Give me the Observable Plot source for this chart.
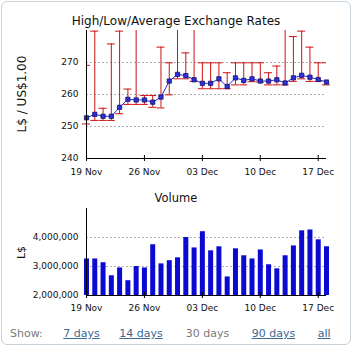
<!DOCTYPE html>
<html><head><meta charset="utf-8">
<script src="https://cdn.jsdelivr.net/npm/d3@7"></script>
<script src="https://cdn.jsdelivr.net/npm/@observablehq/plot@0.6"></script>
<style>
html,body{margin:0;padding:0;background:#fff;}
#wrap{position:relative;width:352px;height:349px;font-family:"DejaVu Sans",Verdana,sans-serif;overflow:hidden;background:#fff;}
#border{position:absolute;left:1px;top:1px;width:350px;height:344px;box-sizing:border-box;border:1px solid #c8d2da;border-radius:6px;}
.abs{position:absolute;white-space:nowrap;}
.chart{position:absolute;left:0;}
.chart svg{background:transparent;overflow:visible;}
.lnk{color:#3a6a92;text-decoration:underline;}
</style>
</head><body>
<div id="wrap">
  <div id="border"></div>
  <div class="chart" id="rates" style="top:0px"></div>
  <div class="chart" id="volume" style="top:200px"></div>
  <div class="abs" style="left:0;width:352px;top:15px;font-size:12px;line-height:12px;text-align:center;color:#111;">High/Low/Average Exchange Rates</div>
  <div class="abs" style="left:-38.3px;top:88px;width:120px;height:12px;font-size:12px;line-height:12px;text-align:center;color:#111;transform:rotate(-90deg);transform-origin:60px 6px;">L$ / US$1.00</div>
  <div class="abs" style="left:0;width:352px;top:193px;font-size:11.5px;line-height:11.5px;text-align:center;color:#111;">Volume</div>
  <div class="abs" style="left:-9.2px;top:247px;width:60px;height:11px;font-size:11px;line-height:11px;text-align:center;color:#111;transform:rotate(-90deg);transform-origin:30px 5.5px;">L$</div>
  <div class="abs" style="top:328px;left:10px;font-size:11px;line-height:11px;color:#7a7a7a;">Show:</div>
  <div class="abs lnk" style="top:328px;left:63.3px;font-size:11px;line-height:11px;">7 days</div>
  <div class="abs lnk" style="top:328px;left:119.3px;font-size:11px;line-height:11px;">14 days</div>
  <div class="abs" style="top:328px;left:185.7px;font-size:11px;line-height:11px;color:#7a7a7a;">30 days</div>
  <div class="abs lnk" style="top:328px;left:251.7px;font-size:11px;line-height:11px;">90 days</div>
  <div class="abs lnk" style="top:328px;left:317.7px;font-size:11px;line-height:11px;">all</div>
</div>
<script>
// ---- data ----
const dates = ["2007-11-19","2007-11-20","2007-11-21","2007-11-22","2007-11-23","2007-11-24","2007-11-25","2007-11-26","2007-11-27","2007-11-28",
  "2007-11-29","2007-11-30","2007-12-01","2007-12-02","2007-12-03","2007-12-04","2007-12-05","2007-12-06","2007-12-07","2007-12-08",
  "2007-12-09","2007-12-10","2007-12-11","2007-12-12","2007-12-13","2007-12-14","2007-12-15","2007-12-16","2007-12-17","2007-12-18"];
const avgRate = [252.7,253.8,253.2,253.2,256.0,258.5,258.3,258.3,257.6,259.2,
  264.2,266.3,265.9,264.6,263.5,263.5,264.9,262.5,265.2,264.4,
  264.9,264.2,264.2,264.6,263.6,265.2,266.0,265.4,264.7,263.9];
// highs above 280 run off the top of the plot in the reference
const highRate = [269.1,279.8,255.7,275.8,279.8,261.7,290.0,259.7,259.7,274.8,
  269.9,290.0,273.0,290.0,269.9,269.9,269.9,266.8,269.9,269.9,
  269.9,269.9,266.8,268.9,290.0,278.1,279.8,274.8,269.9,269.9];
const lowRate = [250.8,251.9,251.9,251.9,254.0,256.9,256.9,256.9,256.0,255.8,
  259.9,264.9,264.9,264.1,261.8,261.8,261.8,261.8,263.0,263.0,
  264.0,263.9,263.0,263.0,263.0,264.1,264.9,264.1,264.1,263.0];
const volume = [3260000,3260000,3130000,2680000,2950000,2510000,3000000,2950000,3750000,3090000,
  3200000,3300000,4000000,3640000,4200000,3540000,3680000,2640000,3610000,3370000,
  3260000,3570000,3060000,2920000,3370000,3710000,4230000,4260000,3920000,3680000];
const xTicks = ["2007-11-19","2007-11-26","2007-12-03","2007-12-10","2007-12-17"];
const rateTicks = [240,250,260,270];
const rateGrid = [250,260,270];
const volTicks = [2000000,3000000,4000000];
const volGrid = [3000000,4000000];

const parse = d3.utcParse("%Y-%m-%d");
const rows = dates.map((d,i)=>({date:parse(d), avg:avgRate[i], high:highRate[i], low:lowRate[i], vol:volume[i]}));
const tickDates = xTicks.map(parse);
const fmt = d3.utcFormat("%d %b");
const xDomain = [parse(dates[0]), parse(dates[dates.length-1])];
const RED = "#cc1111";
const font = "DejaVu Sans, Verdana, sans-serif";

const rates = Plot.plot({
  width: 352, height: 180,
  marginLeft: 86, marginRight: 26, marginTop: 30, marginBottom: 22,
  style: {background:"transparent", fontFamily: font, fontSize: "9px", color:"#111", overflow:"visible"},
  x: {type:"utc", domain: xDomain},
  y: {domain:[240,280]},
  marks: [
    Plot.gridY(rateGrid, {stroke:"#b0b0b0", strokeOpacity:1, strokeDasharray:"2,2"}),
    Plot.ruleX(rows, {x:"date", y1:"low", y2:"high", stroke:RED, strokeWidth:1, clip:true}),
    Plot.ruleY(rows, {y:"high", x1:"date", x2:"date", insetLeft:-4, insetRight:-4, stroke:RED, strokeWidth:1, clip:true}),
    Plot.ruleY(rows, {y:"low", x1:"date", x2:"date", insetLeft:-4, insetRight:-4, stroke:RED, strokeWidth:1}),
    Plot.line(rows, {x:"date", y:"avg", stroke:"#2a2ad0", strokeWidth:1}),
    Plot.dot(rows, {x:"date", y:"avg", symbol:"square", r:2.4, fill:"#3030d8", stroke:"#101070", strokeWidth:0.8}),
    Plot.ruleY([240], {stroke:"#000"}),
    Plot.ruleX([xDomain[0]], {stroke:"#000"}),
    Plot.ruleX(tickDates, {x:d=>d, y1:()=>240, y2:()=>240, insetTop:-3, insetBottom:-3, stroke:"#000"}),
    Plot.axisX(tickDates, {tickSize:0, tickPadding:10, tickFormat:fmt, label:null}),
    Plot.axisY(rateTicks, {tickSize:0, tickPadding:8, label:null})
  ]
});
document.getElementById("rates").appendChild(rates);

const vol = Plot.plot({
  width: 352, height: 120,
  marginLeft: 86, marginRight: 26, marginTop: 8, marginBottom: 25,
  style: {background:"transparent", fontFamily: font, fontSize: "9px", color:"#111", overflow:"visible"},
  x: {type:"utc", domain: xDomain},
  y: {domain:[2000000,5000000]},
  marks: [
    Plot.gridY(volGrid, {stroke:"#b0b0b0", strokeOpacity:1, strokeDasharray:"2,2"}),
    Plot.ruleX(rows, {x:"date", y1:()=>2000000, y2:"vol", stroke:"#0a0ad2", strokeWidth:5}),
    Plot.ruleY([2000000], {stroke:"#000"}),
    Plot.ruleX([xDomain[0]], {stroke:"#000"}),
    Plot.ruleX(tickDates, {x:d=>d, y1:()=>2000000, y2:()=>2000000, insetTop:-3, insetBottom:-3, stroke:"#000"}),
    Plot.axisX(tickDates, {tickSize:0, tickPadding:9, tickFormat:fmt, label:null}),
    Plot.axisY(volTicks, {tickSize:0, tickPadding:8, tickFormat:d3.format(","), label:null})
  ]
});
document.getElementById("volume").appendChild(vol);
</script>
</body></html>
